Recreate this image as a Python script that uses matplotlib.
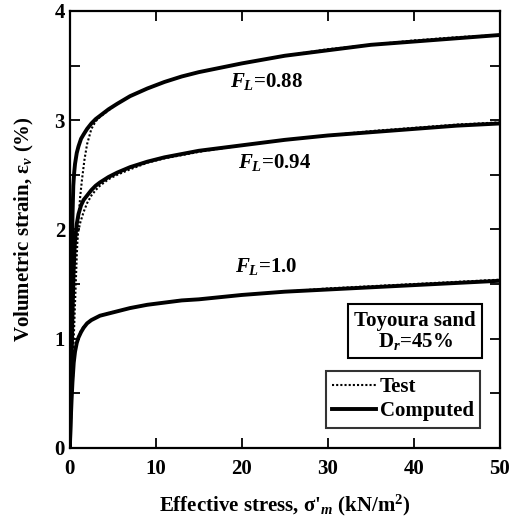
import matplotlib
matplotlib.use('Agg')
import matplotlib.pyplot as plt

plt.rcParams['font.family'] = ['Liberation Serif', 'DejaVu Serif']
plt.rcParams['font.weight'] = 'bold'
plt.rcParams['axes.labelweight'] = 'bold'
plt.rcParams['mathtext.fontset'] = 'custom'
plt.rcParams['mathtext.rm'] = 'Liberation Serif:bold'
plt.rcParams['mathtext.it'] = 'Liberation Serif:italic:bold'
plt.rcParams['mathtext.bf'] = 'Liberation Serif:bold'

# computed curves (effective stress kN/m2, volumetric strain %)
x_c088 = [0, 0.1, 0.2, 0.3, 0.4, 0.5, 0.6, 0.8, 1.0, 1.3, 1.6, 2.0, 2.5, 3.0, 3.5, 4.5, 5.5, 7, 9, 11, 13, 15,
          20, 25, 30, 35, 40, 45, 50]
y_c088 = [0, 0.8, 1.6, 2.1, 2.4, 2.52, 2.6, 2.7, 2.76, 2.83, 2.87, 2.92, 2.97, 3.01, 3.04, 3.10, 3.15, 3.22, 3.29,
          3.35, 3.40, 3.44, 3.52, 3.59, 3.64, 3.69, 3.72, 3.75, 3.78]
x_c094 = [0, 0.15, 0.3, 0.45, 0.6, 0.8, 1.0, 1.3, 1.6, 2.0, 2.5, 3.0, 3.5, 4.5, 5.5, 7, 9, 11, 13, 15,
          20, 25, 30, 35, 40, 45, 50]
y_c094 = [0, 0.6, 1.2, 1.65, 1.9, 2.05, 2.14, 2.22, 2.27, 2.31, 2.36, 2.40, 2.43, 2.48, 2.52, 2.57, 2.62, 2.66,
          2.69, 2.72, 2.77, 2.82, 2.86, 2.89, 2.92, 2.95, 2.97]
x_c100 = [0, 0.1, 0.2, 0.3, 0.45, 0.6, 0.8, 1.0, 1.3, 1.6, 2.0, 2.5, 3.0, 3.5, 4.5, 5.5, 7, 9, 11, 13, 15,
          20, 25, 30, 35, 40, 45, 50]
y_c100 = [0, 0.25, 0.44, 0.6, 0.78, 0.88, 0.96, 1.01, 1.06, 1.10, 1.14, 1.17, 1.19, 1.21, 1.23, 1.25, 1.28, 1.31,
          1.33, 1.35, 1.36, 1.40, 1.43, 1.45, 1.47, 1.49, 1.51, 1.53]

# test curves
x_t088 = [0, 0.45, 0.8, 1.0, 1.2, 1.4, 1.7, 2.0, 2.5, 3.0, 3.5, 4.5, 5.5, 7, 9, 11, 13, 15, 20, 25, 30, 35, 40, 45, 50]
y_t088 = [0, 1.0, 1.75, 2.1, 2.3, 2.45, 2.64, 2.78, 2.92, 2.99, 3.03, 3.09, 3.15, 3.22, 3.29, 3.35, 3.40, 3.44,
          3.52, 3.59, 3.65, 3.69, 3.73, 3.76, 3.78]
x_t094 = [0, 0.3, 0.6, 0.9, 1.2, 1.6, 2.0, 2.5, 3.0, 3.5, 4.5, 5.5, 7, 9, 11, 13, 15, 20, 25, 30, 35, 40, 45, 50]
y_t094 = [0, 1.0, 1.7, 1.95, 2.06, 2.16, 2.24, 2.31, 2.36, 2.40, 2.46, 2.50, 2.55, 2.61, 2.65, 2.68, 2.71, 2.77,
          2.82, 2.86, 2.90, 2.93, 2.96, 2.98]
x_t100 = [0, 0.25, 0.5, 0.7, 0.9, 1.2, 1.6, 2.0, 2.7, 3.5, 4.65, 6, 7.75, 10, 12.8, 15, 20, 30, 40, 50]
y_t100 = [0, 0.5, 0.82, 0.93, 1.0, 1.06, 1.11, 1.14, 1.18, 1.21, 1.24, 1.26, 1.29, 1.32, 1.35, 1.36, 1.40, 1.46,
          1.50, 1.54]

fig = plt.figure(figsize=(5.10, 5.22), dpi=100)
ax = fig.add_axes([0.137, 0.142, 0.843, 0.837])

dots = (0, (1, 1))
for xs, ys in [(x_t088, y_t088), (x_t094, y_t094), (x_t100, y_t100)]:
    ax.plot(xs, ys, color='black', lw=1.5, ls=dots)
for xs, ys in [(x_c088, y_c088), (x_c094, y_c094), (x_c100, y_c100)]:
    ax.plot(xs, ys, color='black', lw=2.8, solid_capstyle='butt', solid_joinstyle='round')

ax.plot([], [], color='black', lw=1.5, ls=dots, label='Test')
ax.plot([], [], color='black', lw=2.8, label='Computed')

ax.text(22.9, 3.35, r'$F_L$=0.88', fontsize=15, ha='center', va='center')
ax.text(23.8, 2.61, r'$F_L$=0.94', fontsize=15, ha='center', va='center')
ax.text(22.8, 1.66, r'$F_L$=1.0', fontsize=15, ha='center', va='center')

ax.text(0.803, 0.267, 'Toyoura sand\nD$_r$=45%', transform=ax.transAxes,
        fontsize=15, ha='center', va='center', linespacing=1.0,
        bbox=dict(boxstyle='square,pad=0.3', fc='white', ec='black', lw=1.5))

leg = ax.legend(loc='upper left', bbox_to_anchor=(0.595, 0.176), fontsize=15,
                frameon=True, fancybox=False, edgecolor='black', borderaxespad=0,
                handlelength=2.1, handletextpad=0.2, borderpad=0.3, labelspacing=0.2)
leg.get_frame().set_linewidth(1.5)

ax.set_xlim(0, 50)
ax.set_ylim(0, 4)
ax.set_xticks([0, 10, 20, 30, 40, 50])
ax.set_yticks([0, 1, 2, 3, 4])
ax.set_yticks([0.5, 1.5, 2.5, 3.5], minor=True)
ax.tick_params(which='both', direction='in', top=True, right=True, width=1.3, length=7, labelsize=15)
ax.tick_params(axis='x', pad=8)
for s in ax.spines.values():
    s.set_linewidth(1.6)

ax.set_xlabel("Effective stress, σ'$_m$ (kN/m$^2$)", fontsize=15, labelpad=10)
ax.set_ylabel('Volumetric strain, ε$_v$ (%)', fontsize=15, labelpad=13)

fig.savefig('out.png', dpi=100)
